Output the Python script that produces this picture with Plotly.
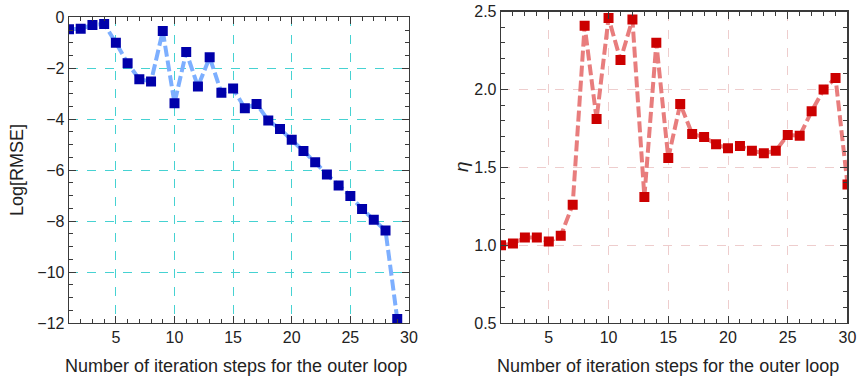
import plotly.graph_objects as go

steps_left = list(range(1, 30))
log_rmse = [-0.47, -0.45, -0.30, -0.26, -1.00, -1.80, -2.43, -2.52, -0.54, -3.37,
            -1.36, -2.72, -1.57, -2.96, -2.79, -3.57, -3.40, -4.05, -4.38, -4.81,
            -5.25, -5.69, -6.17, -6.60, -7.01, -7.53, -7.95, -8.37, -11.84]

steps_right = list(range(1, 31))
eta = [1.00, 1.01, 1.05, 1.05, 1.024, 1.06, 1.26, 2.41, 1.81, 2.46,
       2.19, 2.45, 1.31, 2.30, 1.56, 1.907, 1.714, 1.695, 1.648, 1.622,
       1.637, 1.607, 1.59, 1.607, 1.708, 1.703, 1.86, 2.00, 2.074, 1.39]

x_title = "Number of iteration steps for the outer loop"
FONT = "Liberation Sans, Arial, sans-serif"

fig = go.Figure()
fig.add_trace(go.Scatter(
    x=steps_left, y=log_rmse, mode="lines+markers",
    line=dict(color="rgb(125,175,255)", width=4, dash="11px,4px"),
    marker=dict(symbol="square", size=10, color="rgb(0,0,170)"),
    xaxis="x", yaxis="y", showlegend=False, hoverinfo="skip"))
fig.add_trace(go.Scatter(
    x=steps_right, y=eta, mode="lines+markers",
    line=dict(color="rgb(232,125,125)", width=4, dash="11px,4px"),
    marker=dict(symbol="square", size=10, color="rgb(204,0,0)"),
    xaxis="x2", yaxis="y2", showlegend=False, hoverinfo="skip"))

frame = "#3a3a3a"
common = dict(showline=True, linecolor=frame, linewidth=1.3, mirror="allticks",
              ticks="inside", ticklen=7, tickwidth=1, tickcolor=frame,
              zeroline=False, griddash="dash", gridwidth=1, automargin=False,
              tickfont=dict(family=FONT, size=16, color="#222"))

fig.update_layout(
    width=857, height=379,
    margin=dict(l=0, r=0, t=0, b=0, autoexpand=False),
    paper_bgcolor="white", plot_bgcolor="white",
    font=dict(family=FONT, color="#222"),
    hovermode=False,
    xaxis=dict(domain=[0.0805, 0.4772], range=[1, 30], tick0=0, dtick=5,
               gridcolor="rgb(70,210,210)", anchor="y",
               minor=dict(ticks="inside", ticklen=4, dtick=1, tick0=0, tickcolor=frame, showgrid=False),
               **common),
    yaxis=dict(domain=[0.1478, 0.9543], range=[-12, 0], tick0=0, dtick=2,
               gridcolor="rgb(70,210,210)", anchor="x",
               minor=dict(ticks="inside", ticklen=4, dtick=0.5, tick0=0, tickcolor=frame, showgrid=False),
               **common),
    xaxis2=dict(domain=[0.5846, 0.9889], range=[1, 30], tick0=0, dtick=5,
                gridcolor="rgb(238,205,205)", anchor="y2",
                minor=dict(ticks="inside", ticklen=4, dtick=1, tick0=0, tickcolor=frame, showgrid=False),
                **common),
    yaxis2=dict(domain=[0.1478, 0.9691], range=[0.5, 2.5], tick0=0, dtick=0.5,
                tickformat=".1f", gridcolor="rgb(238,205,205)", anchor="x2",
                minor=dict(ticks="inside", ticklen=4, dtick=0.1, tick0=0, tickcolor=frame, showgrid=False),
                **common),
)

ann_font = dict(family=FONT, size=18, color="#222")
center = dict(xref="paper", yref="paper", xanchor="center", yanchor="middle", showarrow=False)
fig.add_annotation(x=236 / 857, y=1 - 366 / 379, text=x_title, font=ann_font, **center)
fig.add_annotation(x=668 / 857, y=1 - 366 / 379, text=x_title, font=ann_font, **center)
fig.add_annotation(x=17 / 857, y=1 - 170 / 379, text="Log[RMSE]", textangle=-90,
                   font=ann_font, **center)
fig.add_annotation(x=461 / 857, y=1 - 167 / 379, text="<i>η</i>", textangle=-90,
                   font=dict(family=FONT, size=19, color="#222"), **center)

fig.write_html("out.html",
               config={"displayModeBar": False, "staticPlot": True},
               post_script="document.body.style.margin='0px';document.body.style.overflow='hidden';")
